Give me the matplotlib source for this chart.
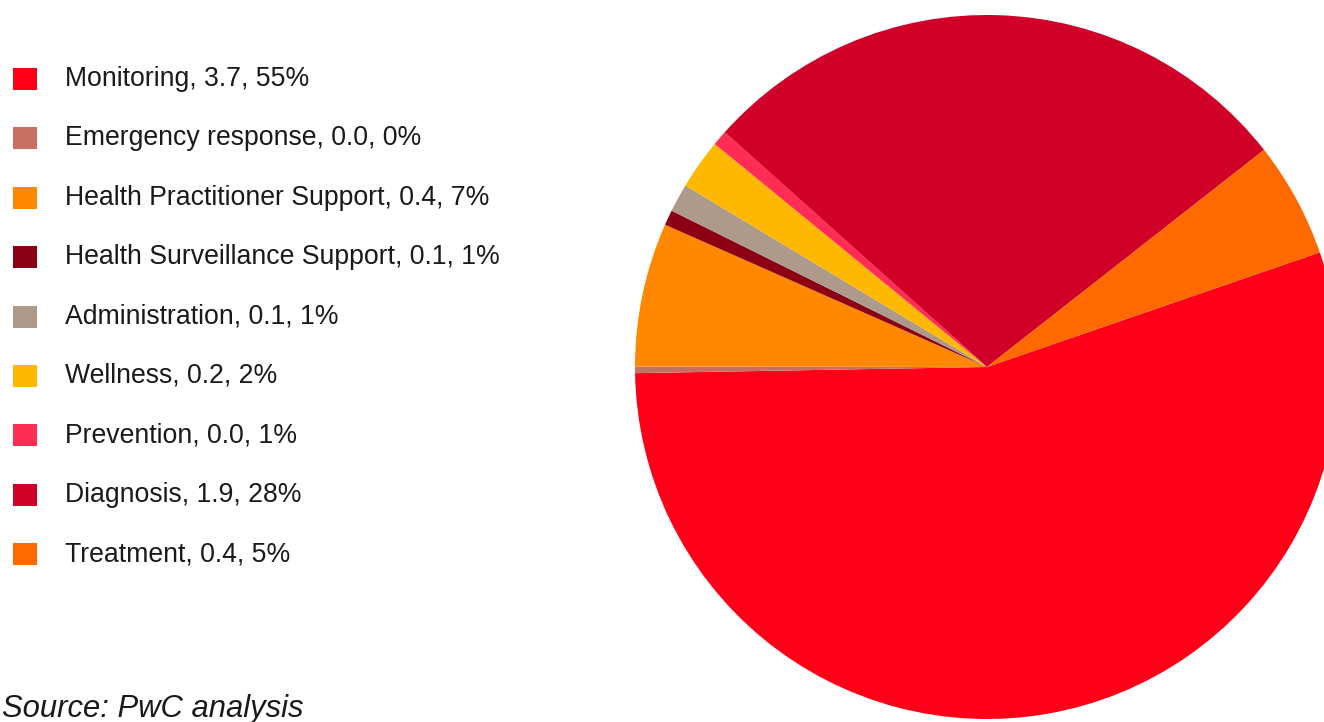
import matplotlib

matplotlib.use("Agg")
import matplotlib.pyplot as plt
from matplotlib.patches import Rectangle

# Market value by application (USD bn) and share of total (%)
CATEGORIES = [
    "Monitoring",
    "Emergency response",
    "Health Practitioner Support",
    "Health Surveillance Support",
    "Administration",
    "Wellness",
    "Prevention",
    "Diagnosis",
    "Treatment",
]
VALUES_BN = [3.7, 0.0, 0.4, 0.1, 0.1, 0.2, 0.0, 1.9, 0.4]
SHARES = [55.0, 0.3, 6.6, 0.7, 1.3, 2.3, 0.7, 27.8, 5.3]
COLORS = [
    "#ff0019",
    "#c96f62",
    "#ff8800",
    "#8b0012",
    "#ad9a8a",
    "#ffb800",
    "#ff2d55",
    "#d00028",
    "#ff6a00",
]
SOURCE = "Source: PwC analysis"

W, H = 1324, 722
fig = plt.figure(figsize=(W / 100, H / 100), dpi=100)
fig.patch.set_facecolor("white")

# pie: centre and radius in pixels
cx, cy, r = 987, 367, 352
ax = fig.add_axes([(cx - r) / W, (H - cy - r) / H, 2 * r / W, 2 * r / H])
ax.pie(
    SHARES,
    colors=COLORS,
    startangle=19,
    counterclock=False,
    radius=1.0,
    wedgeprops={"linewidth": 0},
)
ax.set_xlim(-1, 1)
ax.set_ylim(-1, 1)
ax.set_aspect("equal")
ax.axis("off")

# legend drawn in a pixel-scaled axes on the left
lax = fig.add_axes([0, 0, 600 / W, 1])
lax.set_xlim(0, 600)
lax.set_ylim(H, 0)
lax.axis("off")
row0, step = 79, 59.4
for i, (name, val, share, color) in enumerate(zip(CATEGORIES, VALUES_BN, SHARES, COLORS)):
    y = row0 + i * step
    lax.add_patch(Rectangle((13, y - 11), 24, 22, facecolor=color, edgecolor="none"))
    lax.text(
        65, y, f"{name}, {val:.1f}, {share:.0f}%",
        fontsize=19.2, family="Liberation Sans", color="#1a1a1a",
        va="center", ha="left",
    )

lax.text(
    2, 717, SOURCE, fontsize=22.3, family="Liberation Sans", style="italic",
    color="#1a1a1a", va="baseline", ha="left",
)

fig.savefig("out.png", dpi=100, facecolor="white")
